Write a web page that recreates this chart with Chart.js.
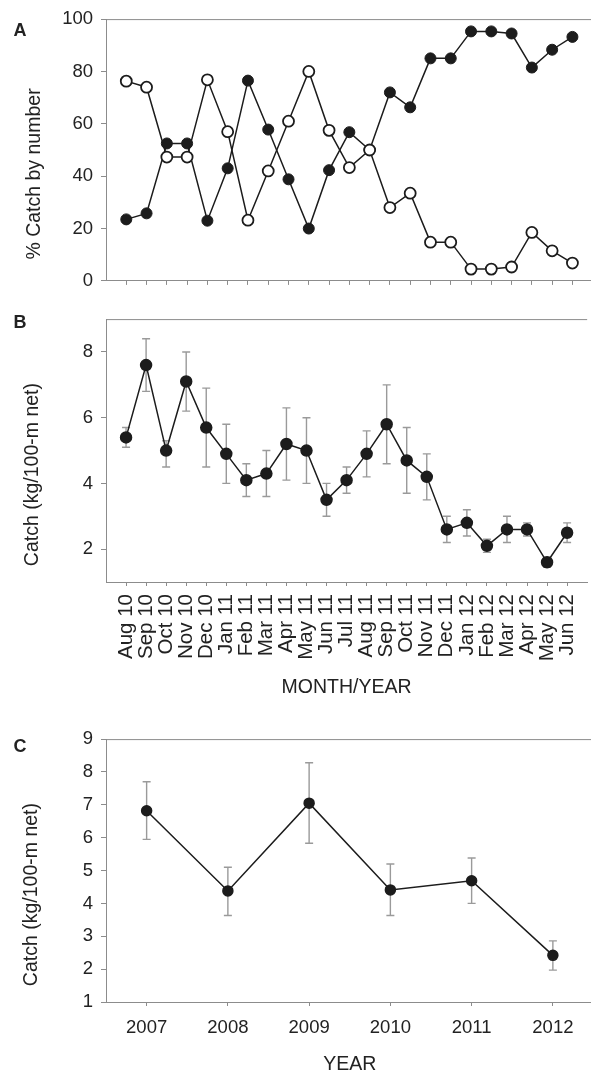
<!DOCTYPE html>
<html>
<head>
<meta charset="utf-8">
<script src="https://cdn.jsdelivr.net/npm/chart.js@4.4.1/dist/chart.umd.min.js"></script>
<style>
  html, body { margin: 0; padding: 0; background: #fff; overflow: hidden; }
  .panel { position: absolute; left: 0; }
  #panelA { top: 0; }
  #panelB { top: 300px; }
  #panelC { top: 720px; }
</style>
</head>
<body>
<div class="panel" id="panelA"><canvas id="chartA" width="600" height="300"></canvas></div>
<div class="panel" id="panelB"><canvas id="chartB" width="600" height="420"></canvas></div>
<div class="panel" id="panelC"><canvas id="chartC" width="600" height="355"></canvas></div>
<script>
// --- données ---
const months = ['Aug 10', 'Sep 10', 'Oct 10', 'Nov 10', 'Dec 10', 'Jan 11', 'Feb 11', 'Mar 11',
    'Apr 11', 'May 11', 'Jun 11', 'Jul 11', 'Aug 11', 'Sep 11', 'Oct 11', 'Nov 11', 'Dec 11',
    'Jan 12', 'Feb 12', 'Mar 12', 'Apr 12', 'May 12', 'Jun 12'];

// panneau A : % des captures en nombre
const pctFilled = [23.5, 25.8, 52.5, 52.5, 23, 43, 76.5, 57.8, 38.8, 20, 42.3, 56.8, 50,
    72, 66.3, 85, 85, 95.3, 95.3, 94.5, 81.5, 88.3, 93.2];
const pctOpen = [76.3, 74, 47.3, 47.3, 76.8, 57, 23.2, 42, 61, 80, 57.5, 43.3, 50,
    28, 33.5, 14.8, 14.8, 4.5, 4.5, 5.3, 18.5, 11.5, 6.8];

// panneau B : capture mensuelle (kg/100 m de filet) et barres d'erreur
const monthlyCatch = [5.4, 7.6, 5.0, 7.1, 5.7, 4.9, 4.1, 4.3, 5.2, 5.0, 3.5, 4.1, 4.9,
    5.8, 4.7, 4.2, 2.6, 2.8, 2.1, 2.6, 2.6, 1.6, 2.5];
const monthlyHi = [5.7, 8.4, 5.3, 8.0, 6.9, 5.8, 4.6, 5.0, 6.3, 6.0, 4.0, 4.5, 5.6,
    7.0, 5.7, 4.9, 3.0, 3.2, 2.3, 3.0, 2.8, 1.75, 2.8];
const monthlyLo = [5.1, 6.8, 4.5, 6.2, 4.5, 4.0, 3.6, 3.6, 4.1, 4.0, 3.0, 3.7, 4.2,
    4.6, 3.7, 3.5, 2.2, 2.4, 1.9, 2.2, 2.4, 1.45, 2.2];

// panneau C : capture annuelle
const years = ['2007', '2008', '2009', '2010', '2011', '2012'];
const yearlyCatch = [6.82, 4.38, 7.05, 4.41, 4.69, 2.42];
const yearlyHi = [7.7, 5.1, 8.28, 5.2, 5.38, 2.86];
const yearlyLo = [5.95, 3.63, 5.83, 3.63, 4.0, 1.97];

const pctTicks = [0, 20, 40, 60, 80, 100];
const monthlyTicks = [2, 4, 6, 8];
const yearlyTicks = [1, 2, 3, 4, 5, 6, 7, 8, 9];

// --- style ---
const AXIS_GRAY = '#8c8c8c';
const INK = '#1c1c1c';
const FONT = '"Liberation Sans", Arial, sans-serif';
Chart.defaults.font.family = FONT;
Chart.defaults.color = '#222';
Chart.defaults.animation = false;

const tickFont = { size: 18.5 };
const monthFont = { size: 20.5 };

// barres d'erreur dessinées avant les points
const errorBars = {
    id: 'errorBars',
    beforeDatasetsDraw(chart, args, opts) {
        if (!opts.hi) return;
        const { ctx } = chart;
        const y = chart.scales.y;
        const meta = chart.getDatasetMeta(0);
        ctx.save();
        ctx.strokeStyle = '#9a9a9a';
        ctx.lineWidth = 1.4;
        meta.data.forEach((pt, i) => {
            const yh = y.getPixelForValue(opts.hi[i]);
            const yl = y.getPixelForValue(opts.lo[i]);
            ctx.beginPath();
            ctx.moveTo(pt.x, yh);
            ctx.lineTo(pt.x, yl);
            ctx.moveTo(pt.x - 4, yh);
            ctx.lineTo(pt.x + 4, yh);
            ctx.moveTo(pt.x - 4, yl);
            ctx.lineTo(pt.x + 4, yl);
            ctx.stroke();
        });
        ctx.restore();
    }
};

// cadre haut, lettre du panneau, titres d'axes
const panelDecor = {
    id: 'panelDecor',
    afterDraw(chart, args, opts) {
        const { ctx, chartArea } = chart;
        ctx.save();
        ctx.strokeStyle = AXIS_GRAY;
        ctx.lineWidth = 1;
        ctx.beginPath();
        ctx.moveTo(chartArea.left, chartArea.top + 0.5);
        ctx.lineTo(chartArea.right, chartArea.top + 0.5);
        ctx.stroke();

        ctx.fillStyle = '#222';
        ctx.textAlign = 'center';
        ctx.textBaseline = 'middle';
        ctx.font = `bold 18px ${FONT}`;
        ctx.fillText(opts.letter, 20, opts.letterY);

        ctx.font = `19.5px ${FONT}`;
        ctx.save();
        ctx.translate(opts.yTitleX, (chartArea.top + chartArea.bottom) / 2 + 24);
        ctx.rotate(-Math.PI / 2);
        ctx.fillText(opts.yTitle, 0, 0);
        ctx.restore();

        if (opts.xTitle) {
            ctx.fillText(opts.xTitle, (chartArea.left + chartArea.right) / 2, opts.xTitleY);
        }
        ctx.restore();
    }
};

function yAxis(min, max, keep) {
    return {
        type: 'linear',
        min: min,
        max: max,
        afterBuildTicks: (scale) => { scale.ticks = keep.map((v) => ({ value: v })); },
        afterFit: (scale) => { scale.width = 106; },
        ticks: { font: tickFont, padding: 8 },
        grid: { drawOnChartArea: false, tickLength: 5, color: AXIS_GRAY },
        border: { color: AXIS_GRAY }
    };
}

function monthAxis(height, showLabels) {
    return {
        type: 'linear',
        min: -1,
        max: 23,
        afterBuildTicks: (scale) => { scale.ticks = months.map((m, i) => ({ value: i })); },
        afterFit: (scale) => { scale.height = height; },
        ticks: {
            display: showLabels,
            autoSkip: false,
            minRotation: 90,
            maxRotation: 90,
            font: monthFont,
            padding: 8,
            callback: (v) => months[v]
        },
        grid: { drawOnChartArea: false, tickLength: 4, color: AXIS_GRAY },
        border: { color: AXIS_GRAY }
    };
}

const toPoints = (arr) => arr.map((v, i) => ({ x: i, y: v }));

// panneau A
new Chart(document.getElementById('chartA'), {
    type: 'line',
    data: {
        datasets: [
            {
                label: 'open',
                data: toPoints(pctOpen),
                borderColor: INK,
                borderWidth: 1.5,
                pointRadius: 5.5,
                pointBackgroundColor: '#fff',
                pointBorderColor: INK,
                pointBorderWidth: 1.8
            },
            {
                label: 'filled',
                data: toPoints(pctFilled),
                borderColor: INK,
                borderWidth: 1.5,
                pointRadius: 5.5,
                pointBackgroundColor: INK,
                pointBorderColor: INK,
                pointBorderWidth: 1
            }
        ]
    },
    options: {
        responsive: false,
        layout: { padding: { top: 17, right: 6, left: 0, bottom: 0 } },
        plugins: {
            legend: { display: false },
            tooltip: { enabled: false },
            panelDecor: { letter: 'A', letterY: 31, yTitle: '% Catch by number', yTitleX: 35 }
        },
        scales: {
            x: monthAxis(13, false),
            y: yAxis(0, 100, pctTicks)
        }
    },
    plugins: [panelDecor]
});

// panneau B
new Chart(document.getElementById('chartB'), {
    type: 'line',
    data: {
        datasets: [{
            data: toPoints(monthlyCatch),
            borderColor: INK,
            borderWidth: 1.5,
            pointRadius: 5.5,
            pointBackgroundColor: INK,
            pointBorderColor: INK
        }]
    },
    options: {
        responsive: false,
        layout: { padding: { top: 11, right: 6, left: 0, bottom: 0 } },
        plugins: {
            legend: { display: false },
            tooltip: { enabled: false },
            errorBars: { hi: monthlyHi, lo: monthlyLo },
            panelDecor: {
                letter: 'B', letterY: 23, yTitle: 'Catch (kg/100-m net)', yTitleX: 33,
                xTitle: 'MONTH/YEAR', xTitleY: 388
            }
        },
        scales: {
            x: monthAxis(138, true),
            y: yAxis(1, 9, monthlyTicks)
        }
    },
    plugins: [errorBars, panelDecor]
});

// panneau C
new Chart(document.getElementById('chartC'), {
    type: 'line',
    data: {
        labels: years,
        datasets: [{
            data: yearlyCatch,
            borderColor: INK,
            borderWidth: 1.5,
            pointRadius: 5,
            pointBackgroundColor: INK,
            pointBorderColor: INK
        }]
    },
    options: {
        responsive: false,
        layout: { padding: { top: 12, right: 6, left: 0, bottom: 0 } },
        plugins: {
            legend: { display: false },
            tooltip: { enabled: false },
            errorBars: { hi: yearlyHi, lo: yearlyLo },
            panelDecor: {
                letter: 'C', letterY: 27, yTitle: 'Catch (kg/100-m net)', yTitleX: 32,
                xTitle: 'YEAR', xTitleY: 345
            }
        },
        scales: {
            x: {
                type: 'category',
                offset: true,
                afterFit: (scale) => { scale.height = 73; },
                ticks: { font: tickFont, padding: 11, maxRotation: 0 },
                grid: { drawOnChartArea: false, tickLength: 4, color: AXIS_GRAY, offset: false },
                border: { color: AXIS_GRAY }
            },
            y: yAxis(1, 9, yearlyTicks)
        }
    },
    plugins: [errorBars, panelDecor]
});
</script>
</body>
</html>
